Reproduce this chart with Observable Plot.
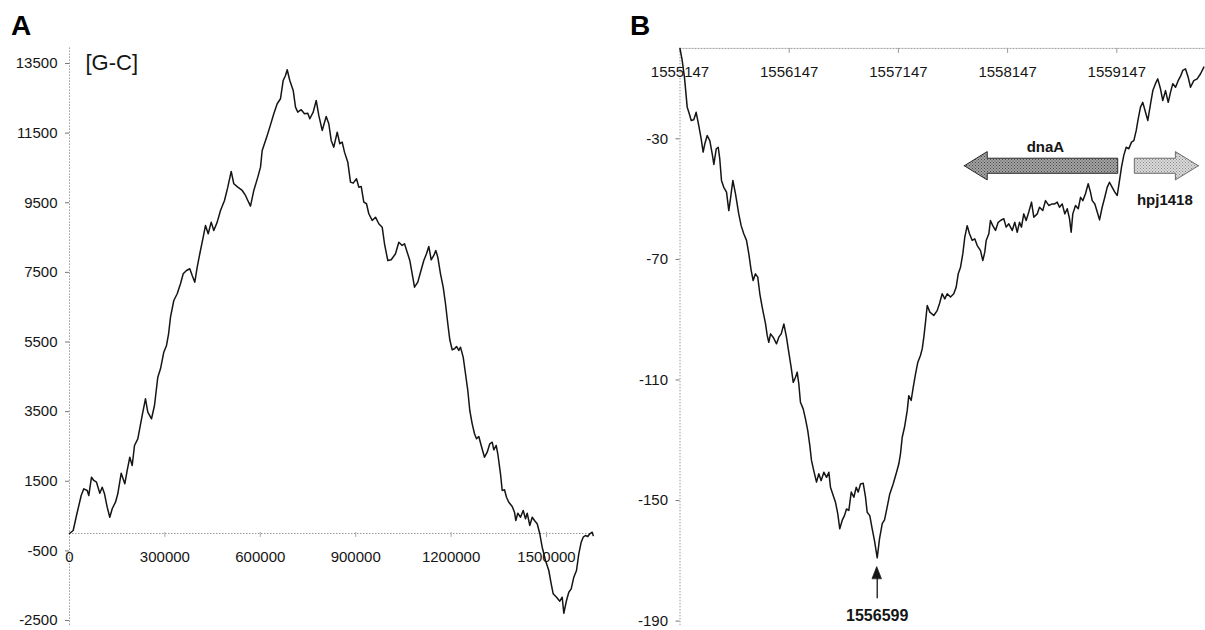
<!DOCTYPE html>
<html>
<head>
<meta charset="utf-8">
<script src="https://cdn.jsdelivr.net/npm/d3@7"></script>
<script src="https://cdn.jsdelivr.net/npm/@observablehq/plot@0.6"></script>
<style>
  html, body { margin: 0; padding: 0; background: #fff; }
  #root { position: relative; width: 1205px; height: 630px; overflow: hidden; background: #fff; }
  .layer { position: absolute; left: 0; top: 0; }
  .panel { position: absolute; font-family: "Liberation Sans", Arial, sans-serif; font-weight: bold; font-size: 28px; line-height: 1; color: #000; }
</style>
</head>
<body>
<div id="root">
  <div id="plotA" class="layer"></div>
  <div id="plotB" class="layer"></div>
  <div class="panel" style="left:11px; top:12px;">A</div>
  <div class="panel" style="left:630px; top:12px;">B</div>
</div>
<script>
// ---------- Panel A: cumulative [G-C] skew over the whole genome ----------
const posA = [0,11635,22013,36792,44968,55660,60692,69182,76415,84906,95283,102830,110063,118553,126730,134277,144654,151887,162579,173900,181447,189623,197170,204402,214780,228616,238994,246226,257861,267295,277672,286163,296540,305031,311320,317610,327987,338679,349056,357547,367925,378302,385849,394025,401572,409748,420440,427673,436163,445597,453773,464465,474843,487421,497798,508490,516667,529245,543082,553459,560692,569182,579560,592138,600629,605975,621698,629874,642453,653145,663522,672013,679245,684591,692767,703459,710692,717925,728616,738994,749371,755660,766352,775786,783962,794654,807233,815409,822956,831132,841824,850000,857547,864780,875157,883648,892138,902516,909748,917295,925472,933962,941195,951887,962264,972642,983333,990566,1000943,1011635,1025157,1035535,1046226,1053459,1061950,1070126,1077673,1084906,1095283,1103774,1114151,1122642,1129874,1137421,1145597,1151887,1158176,1166667,1175157,1182390,1189623,1195912,1203459,1210692,1216981,1224214,1229560,1238050,1245283,1252516,1258805,1266352,1273585,1279874,1287107,1294654,1305031,1313522,1321698,1329245,1334277,1341824,1346855,1355346,1360692,1367925,1374214,1381447,1392138,1399371,1403459,1409748,1418239,1426730,1433962,1439308,1447484,1455031,1462264,1470755,1478931,1486478,1496855,1507233,1514780,1521069,1531447,1541824,1549371,1554403,1562893,1570126,1577673,1585849,1594340,1601572,1609119,1615409,1622642,1629874,1636164,1643711,1646855];
const skewA = [0,86,517,1092,1284,1235,1092,1617,1523,1474,1158,1330,1140,756,468,710,899,1140,1732,1428,1810,2192,1953,2528,2720,3390,3870,3485,3295,3677,4490,4731,5208,5401,5717,6214,6693,6886,7173,7460,7555,7604,7412,7219,7650,8035,8512,8848,8609,8943,8704,8943,9279,9566,9948,10399,10046,9948,9853,9710,9566,9402,9853,10236,10523,11002,11433,11672,12057,12344,12488,13013,13157,13321,13013,12726,12246,12103,12172,12057,12074,11913,12103,12439,12008,11577,11979,11769,11290,11097,11528,11195,11241,10954,10666,10092,10063,10189,9948,9968,9517,9471,9184,8992,9086,8897,8799,8322,7842,7862,8035,8368,8273,8322,8081,7842,7460,7075,7219,7506,7842,8035,8245,7862,7986,8130,7937,7460,7075,6599,6024,5564,5277,5306,5372,5257,5352,5065,4588,4108,3533,3151,2864,2720,2787,2528,2192,2336,2577,2623,2404,2528,2290,1715,1235,1255,1043,899,776,612,373,583,468,661,422,583,230,468,373,279,-9,-394,-776,-1063,-1445,-1732,-1830,-1945,-1830,-2290,-1925,-1686,-1589,-1255,-1063,-583,-250,-106,-57,-86,-9,37,-57];
const xTicksA = [0, 300000, 600000, 900000, 1200000, 1500000];
const yTicksA = [-2500, -500, 1500, 3500, 5500, 7500, 9500, 11500, 13500];
const titleA = "[G-C]";

// ---------- Panel B: detail around the minimum ----------
const posB = [1555147,1555167,1555188,1555213,1555228,1555250,1555273,1555295,1555319,1555341,1555359,1555374,1555396,1555420,1555442,1555457,1555479,1555497,1555511,1555527,1555548,1555573,1555594,1555609,1555631,1555655,1555685,1555707,1555731,1555756,1555777,1555799,1555817,1555838,1555859,1555878,1555900,1555930,1555946,1555960,1555976,1556000,1556031,1556052,1556074,1556098,1556122,1556143,1556165,1556184,1556205,1556220,1556235,1556250,1556275,1556296,1556317,1556336,1556351,1556372,1556397,1556418,1556440,1556464,1556489,1556510,1556525,1556550,1556571,1556592,1556610,1556632,1556653,1556672,1556693,1556715,1556739,1556761,1556779,1556800,1556825,1556846,1556861,1556885,1556907,1556928,1556953,1556974,1556999,1557020,1557044,1557068,1557099,1557130,1557151,1557166,1557182,1557203,1557228,1557242,1557264,1557283,1557304,1557325,1557349,1557365,1557380,1557395,1557411,1557435,1557471,1557502,1557523,1557548,1557572,1557594,1557624,1557654,1557676,1557695,1557716,1557737,1557755,1557777,1557798,1557823,1557847,1557869,1557899,1557920,1557938,1557951,1557975,1557990,1558011,1558036,1558061,1558082,1558112,1558134,1558158,1558189,1558213,1558235,1558256,1558274,1558295,1558317,1558341,1558366,1558387,1558418,1558439,1558469,1558494,1558524,1558555,1558579,1558601,1558622,1558647,1558671,1558693,1558714,1558729,1558744,1558769,1558794,1558815,1558836,1558860,1558885,1558906,1558922,1558946,1558968,1558989,1559013,1559037,1559059,1559080,1559105,1559129,1559151,1559172,1559190,1559211,1559233,1559257,1559282,1559303,1559325,1559343,1559364,1559385,1559410,1559431,1559456,1559477,1559501,1559522,1559547,1559568,1559593,1559618,1559639,1559660,1559685,1559709,1559730,1559751,1559776,1559801,1559822,1559852,1559883,1559914,1559944];
const skewB = [0,-4.0,-9.6,-19.5,-21.2,-23.9,-23.7,-21.2,-25.6,-30.0,-34.4,-31.7,-28.9,-30.6,-35.0,-38.5,-33.3,-32.8,-36.6,-43.8,-46.1,-47.7,-53.8,-49.9,-43.8,-48.2,-54.9,-58.8,-61.5,-63.7,-68.1,-73.7,-77.0,-74.8,-75.9,-81.4,-85.9,-91.3,-95.3,-97.5,-94.7,-95.8,-98.0,-95.8,-94.7,-91.4,-95.8,-100.8,-105.8,-110.8,-109.1,-107.4,-111.3,-117.4,-119.6,-122.9,-126.8,-131.8,-136.7,-140.1,-143.9,-141.1,-143.4,-140.6,-142.3,-140.6,-145.6,-148.3,-150.6,-154.4,-159.4,-156.6,-155.0,-152.8,-153.3,-147.2,-148.9,-145.6,-147.2,-144.5,-144.3,-148.9,-153.9,-155.0,-159.4,-163.3,-169.0,-162.7,-157.7,-156.4,-152.2,-147.8,-144.5,-140.6,-137.8,-134.5,-129.0,-125.7,-120.1,-115.2,-116.8,-112.4,-108.0,-104.1,-101.9,-99.7,-95.8,-90.9,-85.3,-87.5,-88.6,-87.0,-84.7,-81.4,-83.1,-81.4,-82.5,-81.4,-79.2,-74.8,-72.6,-68.1,-62.6,-58.8,-61.5,-63.7,-63.2,-65.4,-67.1,-70.4,-67.6,-63.7,-61.5,-57.1,-58.8,-60.4,-57.7,-57.1,-56.5,-59.3,-58.2,-60.4,-57.7,-61.0,-57.7,-59.3,-54.9,-57.1,-54.3,-51.0,-56.0,-54.9,-52.7,-53.8,-50.5,-52.1,-51.6,-51.6,-51.0,-52.7,-51.6,-54.9,-53.2,-56.5,-61.0,-54.9,-52.1,-53.2,-49.4,-50.5,-48.2,-44.9,-47.7,-50.5,-51.6,-54.3,-56.9,-52.7,-49.4,-46.1,-44.4,-46.1,-47.7,-48.8,-43.8,-39.4,-35.5,-32.8,-33.3,-31.1,-30.6,-27.2,-23.4,-19.5,-17.9,-21.2,-23.9,-18.4,-14.0,-11.7,-10.1,-13.4,-17.3,-14.0,-17.9,-14.5,-11.7,-12.9,-10.7,-9.3,-7.3,-6.8,-9.6,-12.9,-10.7,-10.1,-8.4,-6.2];
const xTicksB = [1555147, 1556147, 1557147, 1558147, 1559147];
const yTicksB = [-190, -150, -110, -70, -30];

// genes drawn as block arrows: start (tail) and end (tip)
const geneNames = ["dnaA", "hpj1418"];
const geneTail = [1559160, 1559312];
const geneTip = [1557755, 1559898];
const geneStroke = ["#2a2a2a", "#6a6a6a"];
const geneLabelX = [1558493, 1559587];
const geneLabelY = [-32.8, -50.2];

// origin annotation
const originPos = 1556953;
const originLabel = "1556599";

const FONT = "'Liberation Sans', Arial, Helvetica, sans-serif";
const INK = "#151515";
const AXIS = "#9a9a9a";

// ---------- build tables ----------
const dataA = posA.map((p, i) => ({pos: p, skew: skewA[i]}));
const dataB = posB.map((p, i) => ({pos: p, skew: skewB[i]}));

// ---------- Panel A ----------
const plotA = Plot.plot({
  width: 1205,
  height: 630,
  style: {background: "none", fontFamily: FONT, overflow: "visible"},
  x: {domain: [0, 1500000], range: [69, 546], axis: null},
  y: {domain: [0, 13500], range: [533, 63], axis: null},
  marks: [
    Plot.ruleX([0], {y1: -2640, y2: 13960, stroke: AXIS, strokeDasharray: "1.5,1.5"}),
    Plot.ruleY([0], {x1: 0, x2: posA[posA.length - 1], stroke: AXIS, strokeDasharray: "1.5,1.5"}),
    Plot.ruleY(yTicksA, {y: d => d, x1: 0, x2: 0, insetLeft: -4, stroke: "#777"}),
    Plot.ruleX(xTicksA.slice(1), {x: d => d, y1: 0, y2: 0, insetTop: -1, insetBottom: -4, stroke: "#aaa"}),
    Plot.text(yTicksA, {x: 0, y: d => d, text: d => String(d), textAnchor: "end", dx: -12, fontSize: 15, fill: INK}),
    Plot.text(xTicksA, {x: d => d, y: 0, text: d => String(d), dy: 24, fontSize: 15, fill: INK}),
    Plot.text([titleA], {x: 50300, y: 13530, text: d => d, textAnchor: "start", fontSize: 22, fill: INK}),
    Plot.line(dataA, {x: "pos", y: "skew", stroke: INK, strokeWidth: 1.5, strokeLinejoin: "round"})
  ]
});
document.getElementById("plotA").appendChild(plotA);

// ---------- Panel B ----------
const geneFill = ["url(#stippleDark)", "url(#stippleLight)"];
const headLen = 210;   // bp
const yMid = -39.1, shaftHalf = 2.5, headHalf = 4.7;
const geneMarks = geneNames.map((name, i) => {
  const tail = geneTail[i], tip = geneTip[i];
  const dir = Math.sign(tip - tail);
  const base = tip - dir * headLen;
  const pts = [
    {x: tip, y1: yMid, y2: yMid},
    {x: base, y1: yMid + headHalf, y2: yMid - headHalf},
    {x: base, y1: yMid + shaftHalf, y2: yMid - shaftHalf},
    {x: tail, y1: yMid + shaftHalf, y2: yMid - shaftHalf}
  ];
  return [
    Plot.area(pts, {x1: "x", y1: "y1", y2: "y2", fill: geneFill[i], stroke: geneStroke[i], strokeWidth: 1}),
    Plot.text([name], {x: geneLabelX[i], y: geneLabelY[i], text: d => d, fontSize: 15, fontWeight: "bold", fill: INK})
  ];
});

const plotB = Plot.plot({
  width: 1205,
  height: 630,
  style: {background: "none", fontFamily: FONT, overflow: "visible"},
  x: {domain: [1555147, 1559147], range: [679.5, 1116.3], axis: null},
  y: {domain: [0, -190], range: [47.9, 620.6], axis: null},
  marks: [
    Plot.ruleX([1555147], {y1: 0, y2: -191.5, stroke: AXIS, strokeDasharray: "1.5,1.5"}),
    Plot.ruleY([0], {x1: 1555147, x2: 1559960, stroke: AXIS, strokeDasharray: "2,1"}),
    Plot.ruleY(yTicksB, {y: d => d, x1: 1555147, x2: 1555147, insetLeft: -4, stroke: "#777"}),
    Plot.ruleX(xTicksB, {x: d => d, y1: 0, y2: 0, insetBottom: -5, stroke: "#999"}),
    Plot.text(yTicksB, {x: 1555147, y: d => d, text: d => String(d), textAnchor: "end", dx: -12, fontSize: 15, fill: INK}),
    Plot.text(xTicksB, {x: d => d, y: 0, text: d => String(d), dy: 24, fontSize: 15, fill: INK}),
    ...geneMarks.flat(),
    Plot.line(dataB, {x: "pos", y: "skew", stroke: INK, strokeWidth: 1.5, strokeLinejoin: "round"}),
    // origin arrow
    Plot.ruleX([originPos], {y1: -182.6, y2: -175.5, stroke: INK, strokeWidth: 1.3}),
    Plot.area([{y: -176.0, x1: originPos - 42, x2: originPos + 42}, {y: -172.1, x1: originPos, x2: originPos}],
      {y1: "y", x1: "x1", x2: "x2", fill: INK, stroke: INK, strokeWidth: 0.8}),
    Plot.text([originLabel], {x: originPos, y: -188.2, text: d => d, fontSize: 16, fontWeight: "bold", fill: INK})
  ]
});

// stipple patterns for the gene arrows
const defs = d3.select(plotB).insert("defs", ":first-child");
function stipple(id, base, dot) {
  const p = defs.append("pattern").attr("id", id).attr("width", 3).attr("height", 3).attr("patternUnits", "userSpaceOnUse");
  p.append("rect").attr("width", 3).attr("height", 3).attr("fill", base);
  p.append("rect").attr("x", 0).attr("y", 0).attr("width", 1).attr("height", 1).attr("fill", dot);
  p.append("rect").attr("x", 1.5).attr("y", 1.5).attr("width", 1).attr("height", 1).attr("fill", dot);
}
stipple("stippleDark", "#a4a4a4", "#4a4a4a");
stipple("stippleLight", "#dadada", "#8a8a8a");
document.getElementById("plotB").appendChild(plotB);
</script>
</body>
</html>
